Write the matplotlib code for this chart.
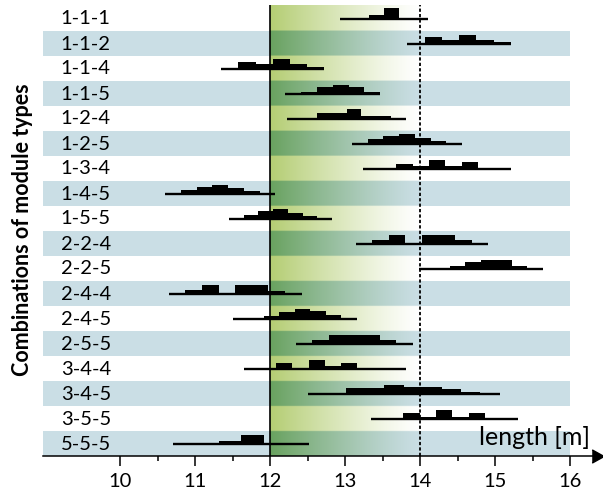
import numpy as np
import matplotlib
matplotlib.use("Agg")
import matplotlib.pyplot as plt
from matplotlib.patches import Rectangle

# ---------------- data ----------------
combos = ["1-1-1", "1-1-2", "1-1-4", "1-1-5", "1-2-4", "1-2-5", "1-3-4", "1-4-5", "1-5-5",
          "2-2-4", "2-2-5", "2-4-4", "2-4-5", "2-5-5", "3-4-4", "3-4-5", "3-5-5", "5-5-5"]
len_min = [12.93, 13.83, 11.35, 12.20, 12.23, 13.09, 13.245, 10.60, 11.45,
           13.14, 13.98, 10.65, 11.50, 12.34, 11.65, 12.50, 13.34, 10.71]
len_max = [14.11, 15.21, 12.72, 13.47, 13.81, 14.56, 15.21, 12.07, 12.83,
           14.91, 15.64, 12.42, 13.16, 13.91, 13.81, 15.06, 15.30, 12.52]
freq = [
    [0, 0, 4, 10, 0, 0],
    [0, 7, 4, 9, 4, 2],
    [0, 7, 5, 10, 5, 2],
    [0, 2, 7, 9, 7, 2],
    [0, 0, 6, 6, 10, 3, 3, 0],
    [0, 5, 8, 10, 6, 3, 1],
    [0, 0, 5, 3, 9, 3, 7, 0, 0],
    [0, 4, 7, 9, 6, 3, 0],
    [0, 4, 8, 10, 6, 3, 0],
    [0, 4, 9, 0, 9, 9, 4, 0],
    [0, 0, 3, 7, 9, 9, 3, 0],
    [0, 4, 9, 0, 9, 9, 3, 0],
    [0, 0, 3, 7, 10, 8, 4, 0],
    [0, 4, 9, 9, 9, 4, 0],
    [0, 0, 6, 1, 9, 3, 6, 0, 0, 0],
    [0, 0, 6, 6, 9, 7, 7, 5, 2, 0],
    [0, 0, 6, 2, 9, 2, 6, 0, 0],
    [0, 0, 3, 9, 0, 0],
]
x_ticks = [10, 11, 12, 13, 14, 15, 16]
limit_low, limit_high = 12, 14
x_label = "length [m]"
y_label = "Combinations of module types"

# ---------------- style ----------------
plt.rcParams["font.family"] = ["Lato", "DejaVu Sans"]
band_col = np.array([202, 222, 229]) / 255
white = np.array([1.0, 1.0, 1.0])
grad_w0 = np.array([180, 205, 115]) / 255
grad_b0 = np.array([105, 162, 95]) / 255

W, H = 603, 493
fig = plt.figure(figsize=(W / 100, H / 100), dpi=100)
ax = fig.add_axes([43 / W, (H - 456) / H, (597 - 43) / W, (456 - 4.5) / H])

n = len(combos)
x0, x1 = 8.973, 16.36
y_top, y_bot = -0.56, n - 0.5

# bands
for i in range(n):
    if i % 2 == 1:
        ax.add_patch(Rectangle((x0, i - 0.5), 16 - x0, 1, facecolor=band_col,
                               edgecolor="none", zorder=0))

# gradient between limits
ny, nx = 1806, 300
ys = np.linspace(y_top, y_bot, ny)
ts = np.linspace(0, 1, nx)
a = (1 - ts) ** 1.2
img = np.zeros((ny, nx, 3))
for k, y in enumerate(ys):
    r = int(np.clip(np.floor(y + 0.5), 0, n - 1))
    if r % 2 == 1 and y >= -0.5:
        s, e = grad_b0, band_col
    else:
        s, e = grad_w0, white
    img[k] = e[None, :] + (s - e)[None, :] * a[:, None]
ax.imshow(img, extent=(limit_low, limit_high, y_bot, y_top), aspect="auto",
          interpolation="bilinear", zorder=1)

ax.axvline(limit_low, color="k", lw=1.2, zorder=5)
ax.axvline(limit_high, color="k", lw=1.3, ls=(0, (1.8, 1.2)), zorder=5)

# histograms
for i in range(n):
    f = np.array(freq[i], dtype=float)
    edges = np.linspace(len_min[i], len_max[i], len(f) + 1)
    ax.stairs(i - f / 25.0, edges, baseline=i, fill=True, color="k", lw=0, zorder=3)
    ax.plot([len_min[i], len_max[i]], [i, i], color="k", lw=1.7,
            solid_capstyle="butt", zorder=4)
    ax.text(9.21, i + 0.02, combos[i], ha="left", va="center", fontsize=14.5, zorder=6)

ax.set_xlim(x0, x1)
ax.set_ylim(y_bot, y_top)
ax.set_yticks([])
ax.set_xticks(x_ticks)
ax.set_xticks(np.arange(10.5, 16, 1), minor=True)
ax.tick_params(axis="x", which="major", length=7, width=1.1, labelsize=14.5, pad=5)
ax.tick_params(axis="x", which="minor", length=3.6, width=1.1)
for sp in ["top", "right", "left"]:
    ax.spines[sp].set_visible(False)
ax.spines["bottom"].set_linewidth(1.1)
ax.spines["bottom"].set_zorder(6)
ax.plot([1], [0], marker=[(-0.8, -1), (1, 0), (-0.8, 1)], color="k", ms=9.5,
        transform=ax.transAxes, clip_on=False, zorder=7)

ax.text(16.267, n - 1 + 0.06, x_label, ha="right", va="baseline", fontsize=18, zorder=6)
fig.text(23 / W, 1 - 230 / H, y_label, rotation=90, fontweight="bold", fontsize=15.5,
         ha="center", va="center")

fig.savefig("out.png", dpi=100)
